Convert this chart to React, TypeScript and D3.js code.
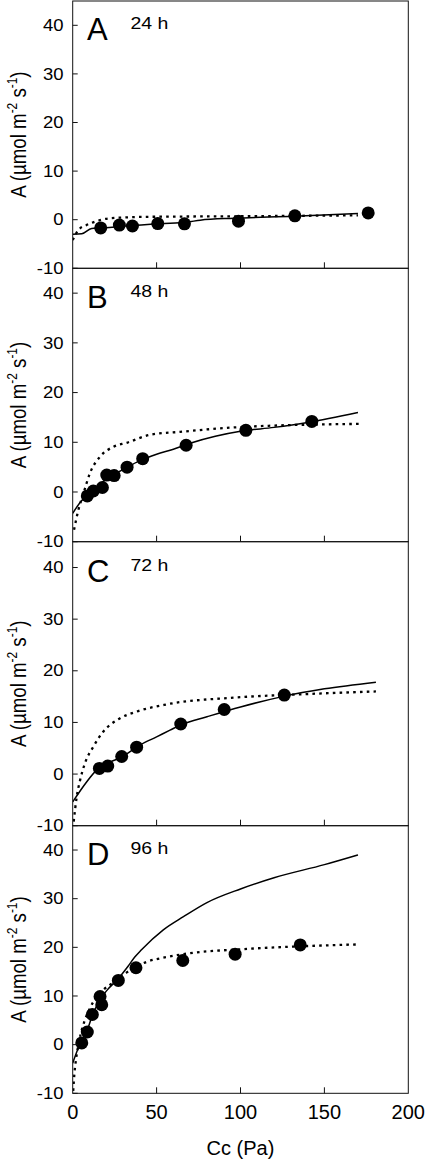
import React from "react";
import * as d3 from "d3";

// ---- data ----
const xTickValues = [0, 50, 100, 150, 200];
const yTickValues = [-10, 0, 10, 20, 30, 40];
const panelLetters = ["A", "B", "C", "D"];
const panelTimes = ["24 h", "48 h", "72 h", "96 h"];

const pointsA: [number, number][] = [
  [16.7, -1.7], [27.8, -1.1], [35.6, -1.3], [50.7, -0.8], [66.6, -0.85],
  [98.8, -0.3], [132.4, 0.8], [176.1, 1.4],
];
const solidA: [number, number][] = [
  [0, -3.0], [5.4, -2.9], [11.3, -1.8], [16.7, -1.7], [36, -1.2], [52, -0.8],
  [68, -0.5], [76, -0.1], [96, 0.3], [132, 0.7], [170, 1.3],
];
const dottedA: [number, number][] = [
  [0, -4.2], [3.4, -2.1], [8.3, -1.1], [16.3, -0.1], [22.3, 0.3], [46, 0.6],
  [96, 0.7], [170, 0.9],
];

const pointsB: [number, number][] = [
  [8.7, -0.8], [12.3, 0.2], [17.7, 0.9], [20.3, 3.4], [24.7, 3.3], [32.4, 5.0],
  [41.7, 6.7], [67.6, 9.4], [103.2, 12.4], [142.5, 14.2],
];
const solidB: [number, number][] = [
  [0, -4.3], [4.4, -2.1], [10, -0.3], [20, 2.6], [30, 4.5], [40, 6.3], [50, 7.6],
  [60, 8.6], [70, 9.8], [85, 11.2], [100, 12.2], [120, 13.0], [140, 14.0], [170, 16.0],
];
const dottedB: [number, number][] = [
  [0.8, -7.6], [3.4, -3.6], [6.4, -0.3], [10.3, 3.8], [16.3, 7.1], [24.3, 9.1],
  [32.2, 9.9], [46, 11.5], [64, 12.1], [101.8, 13.1], [170.4, 13.7],
];

const pointsC: [number, number][] = [
  [15.9, 1.1], [20.9, 1.55], [29.2, 3.4], [38.1, 5.2], [64.4, 9.7], [90.3, 12.5],
  [126.1, 15.3],
];
const solidC: [number, number][] = [
  [0, -5.4], [15.3, 1.1], [30, 3.4], [40, 5.6], [50, 7.2], [58, 8.5], [65, 9.6],
  [80, 11.1], [100, 13.0], [125, 15.0], [150, 16.5], [180.7, 17.8],
];
const dottedC: [number, number][] = [
  [0.6, -9.2], [2.4, -4.4], [4.4, -1.2], [7.3, 2.1], [12.3, 5.3], [18.2, 8.2],
  [28.2, 10.8], [38.1, 12.1], [56, 13.5], [96, 14.8], [140, 15.5], [180.7, 16.0],
];

const pointsD: [number, number][] = [
  [5.4, 0.35], [8.7, 2.6], [11.7, 6.2], [16.3, 9.9], [17.3, 8.2], [27.2, 13.2],
  [37.7, 15.8], [65.6, 17.3], [96.8, 18.6], [135.6, 20.5],
];
const solidD: [number, number][] = [
  [0, -3.8], [3, -1], [5.4, 0.8], [8.7, 3], [11.7, 6], [16, 9], [20, 11],
  [27, 13.5], [33, 16.1], [37, 18], [41, 19.5], [54, 23.6], [66, 26.3],
  [80, 29.2], [100, 32], [120, 34.3], [150, 37], [170, 39],
];
const dottedD: [number, number][] = [
  [0.3, -9.5], [1, -6], [2, -3], [4, 1], [7, 4.8], [10, 7.3], [13, 9.2],
  [18, 11.2], [24, 12.7], [32, 14.8], [44, 17.0], [56, 18.0], [70, 18.8],
  [100, 19.6], [135, 20.2], [170, 20.6],
];

const panelPoints = [pointsA, pointsB, pointsC, pointsD];
const panelSolid = [solidA, solidB, solidC, solidD];
const panelDotted = [dottedA, dottedB, dottedC, dottedD];

// ---- layout ----
const W = 425;
const H = 1160;
const plotLeft = 72.7;
const plotRight = 408.3;
const panelTop = [1, 268.3, 541.7, 825.7];
const panelBottom = [268.3, 541.7, 825.7, 1093.3];
const font = "'Liberation Sans', Arial, Helvetica, sans-serif";

const x = d3.scaleLinear().domain([0, 200]).range([plotLeft, plotRight]);

function Panel({ i }: { i: number }) {
  const top = panelTop[i];
  const bottom = panelBottom[i];
  const y = d3.scaleLinear().domain([-10, 45]).range([bottom, top]);
  const line = d3
    .line<[number, number]>()
    .x((d) => x(d[0]))
    .y((d) => y(d[1]))
    .curve(d3.curveMonotoneX);
  const cy = (top + bottom) / 2;
  const clipId = `clip-${i}`;
  return (
    <g>
      <defs>
        <clipPath id={clipId}>
          <rect x={plotLeft} y={top} width={plotRight - plotLeft} height={bottom - top} />
        </clipPath>
      </defs>
      <g clipPath={`url(#${clipId})`}>
        <path d={line(panelDotted[i]) || ""} fill="none" stroke="#000" strokeWidth={2.3} strokeDasharray="2.6,4.2" />
        <path d={line(panelSolid[i]) || ""} fill="none" stroke="#000" strokeWidth={1.5} />
        {panelPoints[i].map((p, k) => (
          <circle key={k} cx={x(p[0])} cy={y(p[1])} r={6.5} fill="#000" />
        ))}
      </g>
      {/* frame */}
      <rect x={plotLeft} y={top} width={plotRight - plotLeft} height={bottom - top} fill="none" stroke="#111" strokeWidth={1} />
      {/* y ticks */}
      {yTickValues.map((t) => (
        <g key={t}>
          <line x1={plotLeft} x2={plotLeft + 5} y1={y(t)} y2={y(t)} stroke="#111" strokeWidth={1} />
          <text
            transform={`translate(63.5,${y(t)}) scale(1,0.85)`}
            textAnchor="end"
            dy="0.36em"
            fontFamily={font}
            fontSize={18.5}
            fill="#000"
          >
            {t}
          </text>
        </g>
      ))}
      {/* x ticks */}
      {xTickValues.slice(1, -1).map((t) => (
        <line key={t} x1={x(t)} x2={x(t)} y1={bottom} y2={bottom - 6} stroke="#111" strokeWidth={1} />
      ))}
      {/* panel letter and time */}
      <text x={87} y={y(40) + 14.5} fontFamily={font} fontSize={31} fill="#000">
        {panelLetters[i]}
      </text>
      <text transform={`translate(130.5,${y(40) + 3.5}) scale(1,0.82)`} fontFamily={font} fontSize={19.5} fill="#000">
        {panelTimes[i]}
      </text>
      {/* y axis label */}
      <text
        transform={`translate(25.5,${cy}) scale(1,0.85) rotate(-90)`}
        textAnchor="middle"
        fontFamily={font}
        fontSize={22}
        fill="#000"
      >
        A (µmol m
        <tspan fontSize={14} dy={-9}>-2</tspan>
        <tspan dy={9}> s</tspan>
        <tspan fontSize={14} dy={-9}>-1</tspan>
        <tspan dy={9}>)</tspan>
      </text>
    </g>
  );
}

export default function App() {
  const lastBottom = panelBottom[panelBottom.length - 1];
  return (
    <svg
      width={W}
      height={H}
      viewBox={`0 0 ${W} ${H}`}
      style={{ position: "absolute", left: 0, top: 0, background: "#fff" }}
    >
      <rect x={0} y={0} width={W} height={H} fill="#fff" />
      {panelLetters.map((_, i) => (
        <Panel key={i} i={i} />
      ))}
      {xTickValues.map((t) => (
        <text key={t} x={x(t)} y={lastBottom + 26} textAnchor="middle" fontFamily={font} fontSize={20} fill="#000">
          {t}
        </text>
      ))}
      <text x={(plotLeft + plotRight) / 2} y={1155} textAnchor="middle" fontFamily={font} fontSize={20} fill="#000">
        Cc (Pa)
      </text>
    </svg>
  );
}
